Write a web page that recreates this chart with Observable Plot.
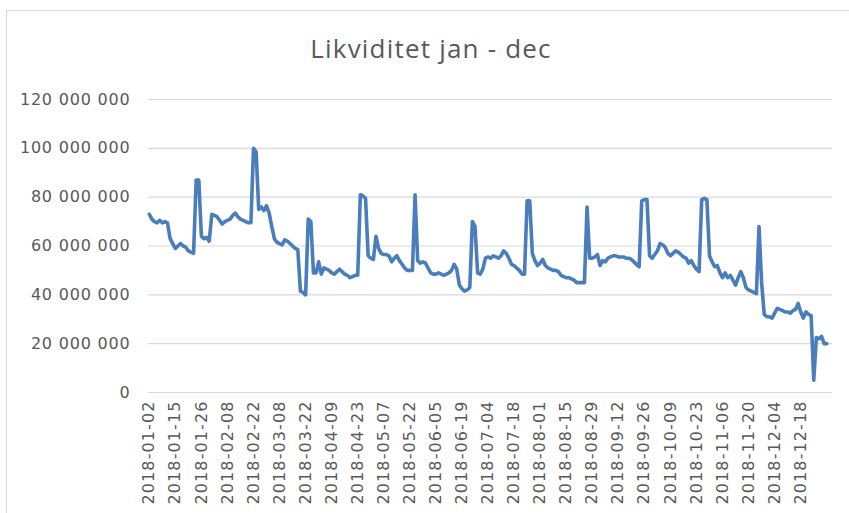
<!DOCTYPE html>
<html>
<head>
<meta charset="utf-8">
<script src="https://cdn.jsdelivr.net/npm/d3@7"></script>
<script src="https://cdn.jsdelivr.net/npm/@observablehq/plot@0.6"></script>
<style>
  html, body { margin: 0; padding: 0; background: #fff; overflow: hidden; }
  #wrap { position: relative; width: 849px; height: 513px; overflow: hidden; }
  #frame { position: absolute; left: 6px; top: 10px; width: 900px; height: 600px;
           border: 1px solid #d9d9d9; box-sizing: border-box; pointer-events: none; }
  #title { position: absolute; left: 0; width: 862px; top: 30px; text-align: center;
           font-family: "Open Sans", sans-serif; font-size: 26px; color: #595959;
           letter-spacing: 1.2px; }
  #chart { position: absolute; left: 0; top: 0; }
</style>
</head>
<body>
<div id="wrap">
  <div id="chart"></div>
  <div id="frame"></div>
  <div id="title">Likviditet jan - dec</div>
</div>
<script>
// Tick labels shown every 10th category on the x axis
const tickLabels = [
  "2018-01-02","2018-01-15","2018-01-26","2018-02-08","2018-02-22","2018-03-08",
  "2018-03-22","2018-04-09","2018-04-23","2018-05-07","2018-05-22","2018-06-05",
  "2018-06-19","2018-07-04","2018-07-18","2018-08-01","2018-08-15","2018-08-29",
  "2018-09-12","2018-09-26","2018-10-09","2018-10-23","2018-11-06","2018-11-20",
  "2018-12-04","2018-12-18"
];

// Liquidity per day, in millions
const likviditetMillion = [
  73, 71, 70, 69.5, 70.5, 69.5, 70, 69.5, 63, 61,
  59, 60, 61, 60, 59.5, 58, 57.5, 57, 87, 87,
  64, 63, 63.5, 62, 73, 72.5, 72, 70.5, 69, 70,
  70.5, 71, 72.5, 73.5, 72, 71, 70.5, 70, 69.5, 69.5,
  100, 98.5, 75, 76, 74.5, 76.5, 73.5, 68, 63, 61.5,
  61, 60.5, 62.5, 62, 61, 60, 59, 58.5, 41.5, 41,
  40, 71, 70, 49, 49, 53.5, 48.5, 51, 50.5, 50,
  49, 48.5, 49.5, 50.5, 49.5, 48.5, 48, 47, 47.5, 48,
  48, 81, 80.5, 79.5, 56, 55, 54.5, 64, 59, 57,
  56.5, 56.5, 56, 53.5, 55, 56, 54, 52.5, 51, 50,
  50, 50, 81, 54, 53, 53.5, 53, 51, 49, 48.5,
  48.5, 49, 48.5, 48, 48.5, 49, 50, 52.5, 50.5, 44,
  42.5, 41.5, 42, 43, 70, 68, 49, 48.5, 50.5, 55,
  55.5, 55, 56, 55.5, 55, 56, 58, 57, 55, 52.5,
  52, 51, 50, 48.5, 48.5, 78.5, 78.5, 57, 54, 52,
  53, 54.5, 52, 51, 50.5, 50, 50, 49.5, 48, 47.5,
  47, 47, 46.5, 46, 45, 45, 45, 45, 76, 55,
  55, 55.5, 56.5, 52, 54, 53.5, 55, 55.5, 56, 56,
  55.5, 55.5, 55.5, 55, 55, 54.5, 53.5, 52.5, 51.5, 78.5,
  79, 79, 56, 55, 56.5, 58, 61, 60.5, 59.5, 57,
  56, 57, 58, 57.5, 56.5, 55.5, 55, 53, 54, 52,
  50.5, 49.5, 79, 79.5, 79, 56, 53.5, 51.5, 52, 49,
  47, 49, 47, 48, 46, 44, 47, 49.5, 47, 43,
  42, 41.5, 41, 40.5, 68, 45, 32, 31, 31, 30.5,
  32.5, 34.5, 34, 33.5, 33, 33, 32.5, 33.5, 34, 36.5,
  33, 30.5, 33, 32, 31.5, 5, 22.5, 22, 23, 20,
  20
];

const yTicks = [0, 20e6, 40e6, 60e6, 80e6, 100e6, 120e6];

const data = likviditetMillion.map((v, i) => ({i, v: v * 1e6}));
const fmtY = d => d3.format(",")(d).replace(/,/g, " ");

const chart = Plot.plot({
  width: 849,
  height: 513,
  marginTop: 99,
  marginBottom: 121,
  marginLeft: 148,
  marginRight: 17,
  style: {background: "#fff", color: "#595959", fontFamily: "DejaVu Sans, sans-serif", fontSize: "16px", overflow: "visible"},
  x: {domain: [-0.3, likviditetMillion.length + 1.2]},
  y: {domain: [0, 120e6]},
  marks: [
    Plot.gridY(yTicks, {stroke: "#d9d9d9", strokeOpacity: 1, strokeWidth: 1.2}),
    Plot.axisY(yTicks, {tickSize: 0, tickPadding: 18, tickFormat: fmtY, fill: "#595959", label: null, fontSize: 16}),
    Plot.axisX(d3.range(0, likviditetMillion.length, 10), {
      tickSize: 0, tickPadding: 8, tickRotate: -90, label: null,
      tickFormat: i => tickLabels[i / 10], fill: "#595959", fontSize: 16
    }),
    Plot.line(data, {x: "i", y: "v", stroke: "#4a7dbb", strokeWidth: 3.6, strokeLinejoin: "round", strokeLinecap: "round"})
  ]
});
document.getElementById("chart").appendChild(chart);
// slight letter spacing to match the wide axis text
chart.querySelectorAll("g[aria-label='y-axis tick label'] text").forEach(t => t.setAttribute("letter-spacing", "0.8"));
chart.querySelectorAll("g[aria-label='x-axis tick label'] text").forEach(t => t.setAttribute("letter-spacing", "1.1"));
</script>
</body>
</html>
